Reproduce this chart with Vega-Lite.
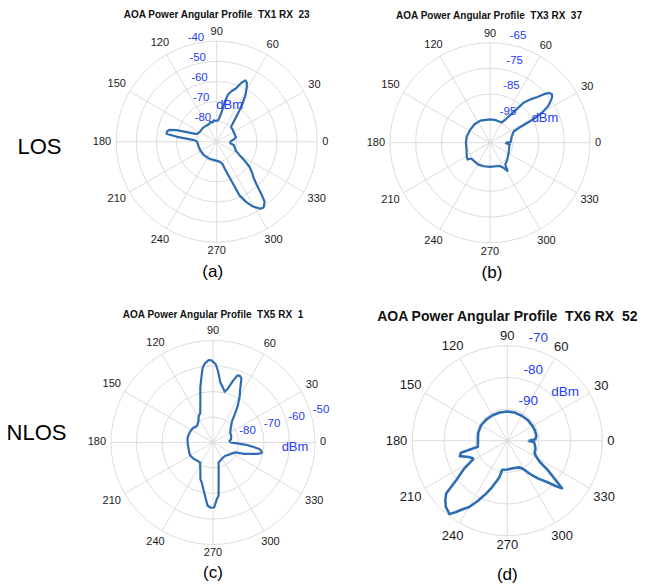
{
  "$schema": "https://vega.github.io/schema/vega-lite/v6.json",
  "padding": 0,
  "config": {"view": {"stroke": null}, "font": "Liberation Sans", "text": {"font": "Liberation Sans"}},
  "resolve": {"scale": {"size": "independent", "x": "independent", "y": "independent"}},
  "datasets": {
    "angles": [{"t":0},{"t":30},{"t":60},{"t":90},{"t":120},{"t":150},{"t":180},{"t":210},{"t":240},{"t":270},{"t":300},{"t":330}],
    "A": [{"t":0,"p":-83.3},{"t":4,"p":-82.5},{"t":8,"p":-81.3},{"t":13,"p":-80.2},{"t":20,"p":-80.3},{"t":30,"p":-80.3},{"t":38,"p":-80.0},{"t":43,"p":-80.0},{"t":46,"p":-79.7},{"t":49,"p":-77.5},{"t":52,"p":-74.2},{"t":54,"p":-70.8},{"t":56,"p":-66.8},{"t":58.5,"p":-62.5},{"t":61.4,"p":-58.7},{"t":63,"p":-57.0},{"t":65,"p":-56.3},{"t":67.4,"p":-58.3},{"t":70,"p":-61.7},{"t":74,"p":-64.0},{"t":76.7,"p":-66.0},{"t":78.7,"p":-70.5},{"t":81,"p":-75.7},{"t":83,"p":-77.5},{"t":85.6,"p":-79.2},{"t":92,"p":-79.7},{"t":98,"p":-79.3},{"t":103,"p":-80.3},{"t":108,"p":-79.5},{"t":113,"p":-80.5},{"t":120,"p":-80.5},{"t":135,"p":-80.3},{"t":150,"p":-80.3},{"t":157,"p":-79.7},{"t":160,"p":-78.7},{"t":162,"p":-75.0},{"t":164,"p":-69.2},{"t":166,"p":-65.8},{"t":168,"p":-64.8},{"t":171,"p":-64.7},{"t":173,"p":-70.0},{"t":174,"p":-74.2},{"t":176,"p":-78.7},{"t":180,"p":-80.3},{"t":195,"p":-80.7},{"t":210,"p":-80.8},{"t":225,"p":-80.8},{"t":245,"p":-80.8},{"t":265,"p":-80.7},{"t":278,"p":-80.0},{"t":284,"p":-78.8},{"t":288,"p":-74.2},{"t":290.5,"p":-69.5},{"t":293,"p":-61.0},{"t":296,"p":-56.7},{"t":299,"p":-53.3},{"t":303,"p":-50.2},{"t":305.5,"p":-49.8},{"t":308.5,"p":-51.7},{"t":310.5,"p":-55.8},{"t":312.7,"p":-60.5},{"t":316,"p":-64.7},{"t":319,"p":-66.7},{"t":322.6,"p":-69.5},{"t":326,"p":-73.3},{"t":329.5,"p":-76.8},{"t":335,"p":-79.5},{"t":343,"p":-80.7},{"t":349,"p":-81.3},{"t":353,"p":-83.0},{"t":357,"p":-83.3},{"t":360,"p":-83.3}],
    "B": [{"t":0,"p":-97.8},{"t":2,"p":-95.9},{"t":8,"p":-95.7},{"t":15,"p":-95.3},{"t":20,"p":-94.6},{"t":25,"p":-93.9},{"t":27,"p":-91.6},{"t":28,"p":-87.8},{"t":28.5,"p":-84.5},{"t":30,"p":-80.6},{"t":32,"p":-77.4},{"t":34,"p":-75.7},{"t":36,"p":-74.1},{"t":38,"p":-73.3},{"t":40,"p":-73.8},{"t":42,"p":-75.7},{"t":44,"p":-78.3},{"t":47,"p":-80.9},{"t":50,"p":-83.7},{"t":53,"p":-89.7},{"t":56,"p":-93.0},{"t":60,"p":-94.9},{"t":75,"p":-94.9},{"t":90,"p":-94.9},{"t":114,"p":-94.6},{"t":130,"p":-94.6},{"t":148,"p":-94.8},{"t":165,"p":-94.6},{"t":180,"p":-94.6},{"t":200,"p":-94.3},{"t":208,"p":-93.7},{"t":213,"p":-93.3},{"t":217,"p":-93.1},{"t":220,"p":-94.4},{"t":230,"p":-94.5},{"t":242,"p":-94.3},{"t":255,"p":-94.5},{"t":270,"p":-94.6},{"t":285,"p":-94.5},{"t":293,"p":-94.1},{"t":299,"p":-92.6},{"t":302,"p":-91.1},{"t":305,"p":-93.6},{"t":315,"p":-94.5},{"t":330,"p":-95.7},{"t":345,"p":-96.2},{"t":350,"p":-96.5},{"t":355,"p":-96.2},{"t":358,"p":-97.8},{"t":360,"p":-97.8}],
    "C": [{"t":0,"p":-83.2},{"t":5,"p":-83.5},{"t":10,"p":-82.8},{"t":20,"p":-82.4},{"t":30,"p":-82.2},{"t":40,"p":-80.9},{"t":48,"p":-78.9},{"t":52,"p":-76.3},{"t":56,"p":-72.6},{"t":60,"p":-69.1},{"t":63,"p":-66.5},{"t":66,"p":-62.6},{"t":68,"p":-61.8},{"t":70,"p":-62.0},{"t":72,"p":-64.5},{"t":75,"p":-68.4},{"t":77,"p":-69.6},{"t":80,"p":-68.0},{"t":83,"p":-66.3},{"t":86,"p":-61.9},{"t":88,"p":-59.3},{"t":91,"p":-57.8},{"t":93,"p":-57.6},{"t":96,"p":-58.9},{"t":98,"p":-60.6},{"t":100,"p":-63.9},{"t":103,"p":-67.9},{"t":106,"p":-72.0},{"t":110,"p":-75.5},{"t":114,"p":-77.6},{"t":118,"p":-78.1},{"t":125,"p":-80.0},{"t":134,"p":-81.0},{"t":145,"p":-80.3},{"t":153,"p":-80.1},{"t":165,"p":-79.9},{"t":172,"p":-79.9},{"t":185,"p":-80.1},{"t":195,"p":-80.1},{"t":205,"p":-79.8},{"t":210,"p":-79.7},{"t":220,"p":-80.1},{"t":230,"p":-80.6},{"t":237,"p":-80.7},{"t":243,"p":-79.0},{"t":248,"p":-76.8},{"t":251,"p":-74.8},{"t":255,"p":-73.4},{"t":259,"p":-70.8},{"t":262,"p":-68.4},{"t":265,"p":-65.2},{"t":268,"p":-64.4},{"t":271,"p":-64.5},{"t":274,"p":-67.8},{"t":276,"p":-69.1},{"t":278,"p":-74.1},{"t":280,"p":-77.2},{"t":282,"p":-79.3},{"t":284,"p":-80.9},{"t":286,"p":-81.9},{"t":300,"p":-82.8},{"t":313,"p":-82.9},{"t":325,"p":-81.9},{"t":336,"p":-80.5},{"t":340,"p":-76.9},{"t":343,"p":-74.7},{"t":346,"p":-71.7},{"t":348,"p":-70.4},{"t":350,"p":-70.7},{"t":352,"p":-71.7},{"t":354,"p":-74.3},{"t":356,"p":-76.9},{"t":358,"p":-80.6},{"t":360,"p":-83.2}],
    "D": [{"t":0,"p":-93.2},{"t":3,"p":-91.1},{"t":10,"p":-90.7},{"t":20,"p":-90.7},{"t":30,"p":-90.8},{"t":45,"p":-90.8},{"t":60,"p":-90.9},{"t":75,"p":-90.8},{"t":90,"p":-90.8},{"t":105,"p":-90.8},{"t":120,"p":-90.7},{"t":135,"p":-90.6},{"t":150,"p":-90.4},{"t":165,"p":-90.5},{"t":175,"p":-90.7},{"t":185,"p":-90.7},{"t":191.6,"p":-90.5},{"t":194.5,"p":-84.9},{"t":198,"p":-84.2},{"t":203,"p":-86.8},{"t":207,"p":-87.8},{"t":208.5,"p":-87.7},{"t":213,"p":-83.7},{"t":217.6,"p":-79.7},{"t":220.8,"p":-74.5},{"t":224,"p":-72.8},{"t":227,"p":-71.5},{"t":231.8,"p":-70.5},{"t":234,"p":-72.1},{"t":237,"p":-74.2},{"t":240.3,"p":-76.0},{"t":244,"p":-78.9},{"t":248.3,"p":-82.1},{"t":252,"p":-84.7},{"t":256,"p":-87.2},{"t":258,"p":-88.4},{"t":260,"p":-90.7},{"t":270,"p":-90.9},{"t":282,"p":-91.1},{"t":295,"p":-90.7},{"t":300,"p":-89.5},{"t":304,"p":-87.5},{"t":309,"p":-84.7},{"t":313.6,"p":-82.1},{"t":317,"p":-78.9},{"t":319,"p":-77.1},{"t":321.8,"p":-81.7},{"t":324,"p":-84.2},{"t":327,"p":-87.8},{"t":331,"p":-89.5},{"t":335,"p":-90.5},{"t":345,"p":-90.8},{"t":353,"p":-91.3},{"t":357,"p":-91.6},{"t":359,"p":-93.2},{"t":360,"p":-93.2}]
  },
  "columns": 3,
  "spacing": 0,
  "bounds": "flush",
  "align": "each",
  "concat": [
    {
      "width": 95, "height": 290,
      "data": {"values": [{"label": "LOS"}]},
      "mark": {"type": "text", "fontSize": 22, "color": "#000", "dx": -8, "dy": 2},
      "encoding": {
        "x": {"datum": 0.5, "type": "quantitative", "scale": {"domain": [0, 1]}, "axis": null},
        "y": {"datum": 0.5, "type": "quantitative", "scale": {"domain": [0, 1]}, "axis": null},
        "text": {"field": "label"}
      }
    },
    {
      "width": 260, "height": 290,
      "encoding": {
        "x": {"field": "x", "type": "quantitative", "scale": {"domain": [-1.2109, 1.3761], "nice": false, "zero": false}, "axis": null},
        "y": {"field": "y", "type": "quantitative", "scale": {"domain": [-1.4756, 1.4100], "nice": false, "zero": false}, "axis": null}
      },
      "layer": [
        {"data": {"values": [{"v":-80},{"v":-70},{"v":-60},{"v":-50},{"v":-40}]},
         "transform": [{"calculate": "0", "as": "x"}, {"calculate": "0", "as": "y"}, {"calculate": "(datum.v + 90)/50", "as": "rn"}],
         "mark": {"type": "point", "shape": "circle", "filled": false, "color": "#dcdcdc", "strokeWidth": 1, "opacity": 1},
         "encoding": {"size": {"field": "rn", "type": "quantitative", "scale": {"type": "pow", "exponent": 2, "domain": [0, 1], "range": [0, 40401]}, "legend": null}}},
        {"data": {"name": "angles"},
         "transform": [{"calculate": "cos(datum.t*PI/180)", "as": "x"}, {"calculate": "sin(datum.t*PI/180)", "as": "y"}, {"calculate": "0", "as": "x0"}, {"calculate": "0", "as": "y0"}],
         "mark": {"type": "rule", "color": "#dcdcdc", "strokeWidth": 1},
         "encoding": {"x2": {"field": "x0"}, "y2": {"field": "y0"}}},
        {"data": {"name": "angles"},
         "transform": [{"calculate": "toString(datum.t)", "as": "lab"}, {"calculate": "(100.5 + 5 + 3.06*length(datum.lab)*abs(cos(datum.t*PI/180)) + 4*abs(sin(datum.t*PI/180)))/100.5", "as": "d"}, {"calculate": "datum.d*cos(datum.t*PI/180)", "as": "x"}, {"calculate": "datum.d*sin(datum.t*PI/180)", "as": "y"}],
         "mark": {"type": "text", "fontSize": 11, "color": "#1a1a1a", "baseline": "middle", "align": "center"},
         "encoding": {"text": {"field": "lab"}}},
        {"data": {"name": "A"},
         "transform": [{"calculate": "(datum.p + 90)/50", "as": "rn"}, {"calculate": "datum.rn*cos(datum.t*PI/180)", "as": "x"}, {"calculate": "datum.rn*sin(datum.t*PI/180)", "as": "y"}],
         "mark": {"type": "line", "color": "#2f6db3", "strokeWidth": 2.2, "strokeJoin": "round"},
         "encoding": {"order": {"field": "t", "type": "quantitative"}}},
        {"data": {"values": [{"v":-80},{"v":-70},{"v":-60},{"v":-50},{"v":-40}]},
         "transform": [{"calculate": "toString(datum.v)", "as": "lab"}, {"calculate": "(datum.v + 90)/50", "as": "rn"}, {"calculate": "datum.rn*cos(95*PI/180)", "as": "x"}, {"calculate": "datum.rn*sin(95*PI/180)", "as": "y"}],
         "mark": {"type": "text", "fontSize": 11.5, "color": "#1f3cf7", "baseline": "middle", "dx": -12, "dy": -3.4},
         "encoding": {"text": {"field": "lab"}}},
        {"data": {"values": [{"label": "dBm"}]},
         "transform": [{"calculate": "0", "as": "x"}, {"calculate": "0", "as": "y"}],
         "mark": {"type": "text", "fontSize": 13, "color": "#1f3cf7", "baseline": "middle", "dx": 13, "dy": -37},
         "encoding": {"text": {"field": "label"}}},
        {"data": {"values": [{"label": "AOA Power Angular Profile\u00a0 TX1 RX\u00a0 23"}]},
         "transform": [{"calculate": "0", "as": "x"}, {"calculate": "0", "as": "y"}],
         "mark": {"type": "text", "fontSize": 10, "fontWeight": "bold", "color": "#111", "baseline": "middle", "dy": -126.7},
         "encoding": {"text": {"field": "label"}}},
        {"data": {"values": [{"label": "(a)"}]},
         "transform": [{"calculate": "0", "as": "x"}, {"calculate": "0", "as": "y"}],
         "mark": {"type": "text", "fontSize": 17, "color": "#000", "baseline": "middle", "dx": -4, "dy": 130},
         "encoding": {"text": {"field": "label"}}}
      ]
    },
    {
      "width": 295, "height": 290,
      "encoding": {
        "x": {"field": "x", "type": "quantitative", "scale": {"domain": [-1.35, 1.60], "nice": false, "zero": false}, "axis": null},
        "y": {"field": "y", "type": "quantitative", "scale": {"domain": [-1.473, 1.427], "nice": false, "zero": false}, "axis": null}
      },
      "layer": [
        {"data": {"values": [{"v":-95},{"v":-85},{"v":-75},{"v":-65}]},
         "transform": [{"calculate": "0", "as": "x"}, {"calculate": "0", "as": "y"}, {"calculate": "(datum.v + 104)/39", "as": "rn"}],
         "mark": {"type": "point", "shape": "circle", "filled": false, "color": "#dcdcdc", "strokeWidth": 1, "opacity": 1},
         "encoding": {"size": {"field": "rn", "type": "quantitative", "scale": {"type": "pow", "exponent": 2, "domain": [0, 1], "range": [0, 40000]}, "legend": null}}},
        {"data": {"name": "angles"},
         "transform": [{"calculate": "cos(datum.t*PI/180)", "as": "x"}, {"calculate": "sin(datum.t*PI/180)", "as": "y"}, {"calculate": "0", "as": "x0"}, {"calculate": "0", "as": "y0"}],
         "mark": {"type": "rule", "color": "#dcdcdc", "strokeWidth": 1},
         "encoding": {"x2": {"field": "x0"}, "y2": {"field": "y0"}}},
        {"data": {"name": "angles"},
         "transform": [{"calculate": "toString(datum.t)", "as": "lab"}, {"calculate": "(100 + 5 + 3.06*length(datum.lab)*abs(cos(datum.t*PI/180)) + 4*abs(sin(datum.t*PI/180)))/100", "as": "d"}, {"calculate": "datum.d*cos(datum.t*PI/180)", "as": "x"}, {"calculate": "datum.d*sin(datum.t*PI/180)", "as": "y"}],
         "mark": {"type": "text", "fontSize": 11, "color": "#1a1a1a", "baseline": "middle", "align": "center"},
         "encoding": {"text": {"field": "lab"}}},
        {"data": {"name": "B"},
         "transform": [{"calculate": "(datum.p + 104)/39", "as": "rn"}, {"calculate": "datum.rn*cos(datum.t*PI/180)", "as": "x"}, {"calculate": "datum.rn*sin(datum.t*PI/180)", "as": "y"}],
         "mark": {"type": "line", "color": "#2f6db3", "strokeWidth": 2.2, "strokeJoin": "round"},
         "encoding": {"order": {"field": "t", "type": "quantitative"}}},
        {"data": {"values": [{"v":-95},{"v":-85},{"v":-75},{"v":-65}]},
         "transform": [{"calculate": "toString(datum.v)", "as": "lab"}, {"calculate": "(datum.v + 104)/39", "as": "rn"}, {"calculate": "datum.rn*cos(82.5*PI/180)", "as": "x"}, {"calculate": "datum.rn*sin(82.5*PI/180)", "as": "y"}],
         "mark": {"type": "text", "fontSize": 11.5, "color": "#1f3cf7", "baseline": "middle", "dx": 15, "dy": -8},
         "encoding": {"text": {"field": "lab"}}},
        {"data": {"values": [{"label": "dBm"}]},
         "transform": [{"calculate": "0", "as": "x"}, {"calculate": "0", "as": "y"}],
         "mark": {"type": "text", "fontSize": 13, "color": "#1f3cf7", "baseline": "middle", "dx": 55, "dy": -24.4},
         "encoding": {"text": {"field": "label"}}},
        {"data": {"values": [{"label": "AOA Power Angular Profile\u00a0 TX3 RX\u00a0 37"}]},
         "transform": [{"calculate": "0", "as": "x"}, {"calculate": "0", "as": "y"}],
         "mark": {"type": "text", "fontSize": 10, "fontWeight": "bold", "color": "#111", "baseline": "middle", "dx": -1, "dy": -126.7},
         "encoding": {"text": {"field": "label"}}},
        {"data": {"values": [{"label": "(b)"}]},
         "transform": [{"calculate": "0", "as": "x"}, {"calculate": "0", "as": "y"}],
         "mark": {"type": "text", "fontSize": 17, "color": "#000", "baseline": "middle", "dx": 2, "dy": 130},
         "encoding": {"text": {"field": "label"}}}
      ]
    },
    {
      "width": 95, "height": 295,
      "data": {"values": [{"label": "NLOS"}]},
      "mark": {"type": "text", "fontSize": 22, "color": "#000", "dx": -11, "dy": -5},
      "encoding": {
        "x": {"datum": 0.5, "type": "quantitative", "scale": {"domain": [0, 1]}, "axis": null},
        "y": {"datum": 0.5, "type": "quantitative", "scale": {"domain": [0, 1]}, "axis": null},
        "text": {"field": "label"}
      }
    },
    {
      "width": 260, "height": 295,
      "encoding": {
        "x": {"field": "x", "type": "quantitative", "scale": {"domain": [-1.1569, 1.3922], "nice": false, "zero": false}, "axis": null},
        "y": {"field": "y", "type": "quantitative", "scale": {"domain": [-1.3971, 1.4951], "nice": false, "zero": false}, "axis": null}
      },
      "layer": [
        {"data": {"values": [{"v":-80},{"v":-70},{"v":-60},{"v":-50}]},
         "transform": [{"calculate": "0", "as": "x"}, {"calculate": "0", "as": "y"}, {"calculate": "(datum.v + 90)/40", "as": "rn"}],
         "mark": {"type": "point", "shape": "circle", "filled": false, "color": "#dcdcdc", "strokeWidth": 1, "opacity": 1},
         "encoding": {"size": {"field": "rn", "type": "quantitative", "scale": {"type": "pow", "exponent": 2, "domain": [0, 1], "range": [0, 41616]}, "legend": null}}},
        {"data": {"name": "angles"},
         "transform": [{"calculate": "cos(datum.t*PI/180)", "as": "x"}, {"calculate": "sin(datum.t*PI/180)", "as": "y"}, {"calculate": "0", "as": "x0"}, {"calculate": "0", "as": "y0"}],
         "mark": {"type": "rule", "color": "#dcdcdc", "strokeWidth": 1},
         "encoding": {"x2": {"field": "x0"}, "y2": {"field": "y0"}}},
        {"data": {"name": "angles"},
         "transform": [{"calculate": "toString(datum.t)", "as": "lab"}, {"calculate": "(102 + 5 + 3.06*length(datum.lab)*abs(cos(datum.t*PI/180)) + 4*abs(sin(datum.t*PI/180)))/102", "as": "d"}, {"calculate": "datum.d*cos(datum.t*PI/180)", "as": "x"}, {"calculate": "datum.d*sin(datum.t*PI/180)", "as": "y"}],
         "mark": {"type": "text", "fontSize": 11, "color": "#1a1a1a", "baseline": "middle", "align": "center"},
         "encoding": {"text": {"field": "lab"}}},
        {"data": {"name": "C"},
         "transform": [{"calculate": "(datum.p + 90)/40", "as": "rn"}, {"calculate": "datum.rn*cos(datum.t*PI/180)", "as": "x"}, {"calculate": "datum.rn*sin(datum.t*PI/180)", "as": "y"}],
         "mark": {"type": "line", "color": "#2f6db3", "strokeWidth": 2.2, "strokeJoin": "round"},
         "encoding": {"order": {"field": "t", "type": "quantitative"}}},
        {"data": {"values": [{"v":-80},{"v":-70},{"v":-60},{"v":-50}]},
         "transform": [{"calculate": "toString(datum.v)", "as": "lab"}, {"calculate": "(datum.v + 90)/40", "as": "rn"}, {"calculate": "datum.rn*cos(16*PI/180)", "as": "x"}, {"calculate": "datum.rn*sin(16*PI/180)", "as": "y"}],
         "mark": {"type": "text", "fontSize": 11.5, "color": "#1f3cf7", "baseline": "middle", "dx": 10, "dy": -4},
         "encoding": {"text": {"field": "lab"}}},
        {"data": {"values": [{"label": "dBm"}]},
         "transform": [{"calculate": "0", "as": "x"}, {"calculate": "0", "as": "y"}],
         "mark": {"type": "text", "fontSize": 13, "color": "#1f3cf7", "baseline": "middle", "dx": 82, "dy": 4.2},
         "encoding": {"text": {"field": "label"}}},
        {"data": {"values": [{"label": "AOA Power Angular Profile\u00a0 TX5 RX\u00a0 1"}]},
         "transform": [{"calculate": "0", "as": "x"}, {"calculate": "0", "as": "y"}],
         "mark": {"type": "text", "fontSize": 10, "fontWeight": "bold", "color": "#111", "baseline": "middle", "dy": -127.5},
         "encoding": {"text": {"field": "label"}}},
        {"data": {"values": [{"label": "(c)"}]},
         "transform": [{"calculate": "0", "as": "x"}, {"calculate": "0", "as": "y"}],
         "mark": {"type": "text", "fontSize": 17, "color": "#000", "baseline": "middle", "dy": 130.5},
         "encoding": {"text": {"field": "label"}}}
      ]
    },
    {
      "width": 295, "height": 295,
      "encoding": {
        "x": {"field": "x", "type": "quantitative", "scale": {"domain": [-1.6032, 1.5021], "nice": false, "zero": false}, "axis": null},
        "y": {"field": "y", "type": "quantitative", "scale": {"domain": [-1.5189, 1.5863], "nice": false, "zero": false}, "axis": null}
      },
      "layer": [
        {"data": {"values": [{"v":-90},{"v":-80},{"v":-70}]},
         "transform": [{"calculate": "0", "as": "x"}, {"calculate": "0", "as": "y"}, {"calculate": "(datum.v + 100)/30", "as": "rn"}],
         "mark": {"type": "point", "shape": "circle", "filled": false, "color": "#dcdcdc", "strokeWidth": 1, "opacity": 1},
         "encoding": {"size": {"field": "rn", "type": "quantitative", "scale": {"type": "pow", "exponent": 2, "domain": [0, 1], "range": [0, 36100]}, "legend": null}}},
        {"data": {"name": "angles"},
         "transform": [{"calculate": "cos(datum.t*PI/180)", "as": "x"}, {"calculate": "sin(datum.t*PI/180)", "as": "y"}, {"calculate": "0", "as": "x0"}, {"calculate": "0", "as": "y0"}],
         "mark": {"type": "rule", "color": "#dcdcdc", "strokeWidth": 1},
         "encoding": {"x2": {"field": "x0"}, "y2": {"field": "y0"}}},
        {"data": {"name": "angles"},
         "transform": [{"calculate": "toString(datum.t)", "as": "lab"}, {"calculate": "(95 + 5 + 3.6*length(datum.lab)*abs(cos(datum.t*PI/180)) + 4.7*abs(sin(datum.t*PI/180)))/95", "as": "d"}, {"calculate": "datum.d*cos(datum.t*PI/180)", "as": "x"}, {"calculate": "datum.d*sin(datum.t*PI/180)", "as": "y"}],
         "mark": {"type": "text", "fontSize": 13, "color": "#1a1a1a", "baseline": "middle", "align": "center"},
         "encoding": {"text": {"field": "lab"}}},
        {"data": {"name": "D"},
         "transform": [{"calculate": "(datum.p + 100)/30", "as": "rn"}, {"calculate": "datum.rn*cos(datum.t*PI/180)", "as": "x"}, {"calculate": "datum.rn*sin(datum.t*PI/180)", "as": "y"}],
         "mark": {"type": "line", "color": "#2f6db3", "strokeWidth": 2.6, "strokeJoin": "round"},
         "encoding": {"order": {"field": "t", "type": "quantitative"}}},
        {"data": {"values": [{"v":-90},{"v":-80},{"v":-70}]},
         "transform": [{"calculate": "toString(datum.v)", "as": "lab"}, {"calculate": "(datum.v + 100)/30", "as": "rn"}, {"calculate": "datum.rn*cos(81*PI/180)", "as": "x"}, {"calculate": "datum.rn*sin(81*PI/180)", "as": "y"}],
         "mark": {"type": "text", "fontSize": 13.5, "color": "#1f3cf7", "baseline": "middle", "dx": 16, "dy": -8.5},
         "encoding": {"text": {"field": "lab"}}},
        {"data": {"values": [{"label": "dBm"}]},
         "transform": [{"calculate": "0", "as": "x"}, {"calculate": "0", "as": "y"}],
         "mark": {"type": "text", "fontSize": 13.5, "color": "#1f3cf7", "baseline": "middle", "dx": 57.7, "dy": -48.4},
         "encoding": {"text": {"field": "label"}}},
        {"data": {"values": [{"label": "AOA Power Angular Profile\u00a0 TX6 RX\u00a0 52"}]},
         "transform": [{"calculate": "0", "as": "x"}, {"calculate": "0", "as": "y"}],
         "mark": {"type": "text", "fontSize": 14, "fontWeight": "bold", "color": "#111", "baseline": "middle", "dy": -124},
         "encoding": {"text": {"field": "label"}}},
        {"data": {"values": [{"label": "(d)"}]},
         "transform": [{"calculate": "0", "as": "x"}, {"calculate": "0", "as": "y"}],
         "mark": {"type": "text", "fontSize": 17, "color": "#000", "baseline": "middle", "dy": 134.5},
         "encoding": {"text": {"field": "label"}}}
      ]
    }
  ]
}
